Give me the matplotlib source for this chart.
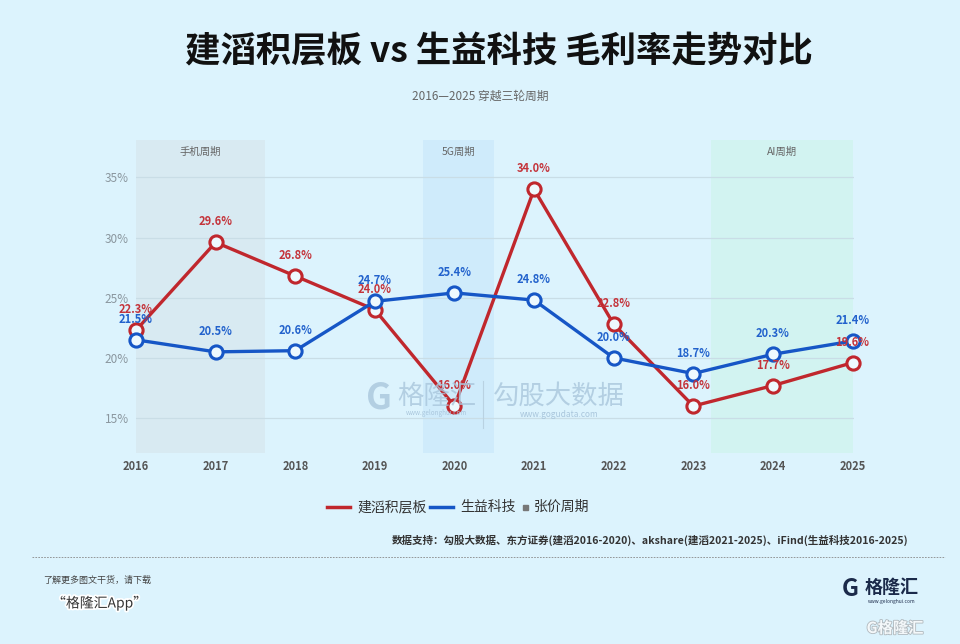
import matplotlib
matplotlib.use("Agg")
import matplotlib.pyplot as plt
from matplotlib.lines import Line2D
from matplotlib.patches import Rectangle
import matplotlib.patheffects as pe

plt.rcParams['font.family'] = ['Noto Sans CJK SC', 'DejaVu Sans']

# data
years = [2016, 2017, 2018, 2019, 2020, 2021, 2022, 2023, 2024, 2025]
kingboard = [22.3, 29.6, 26.8, 24.0, 16.0, 34.0, 22.8, 16.0, 17.7, 19.6]
shengyi = [21.5, 20.5, 20.6, 24.7, 25.4, 24.8, 20.0, 18.7, 20.3, 21.4]
y_ticks = [15, 20, 25, 30, 35]

# cycle bands (start, end, label, colour)
cycle_names = ['手机周期', '5G周期', 'AI周期']
cycle_start = [2016.0, 2019.6, 2023.22]
cycle_end = [2017.62, 2020.5, 2025.0]
cycle_colors = ['#d8eaf2', '#cfebfb', '#d2f3f1']

BG = '#dcf3fd'
RED = '#c0272d'
BLUE = '#1656c6'

fig = plt.figure(figsize=(9.6, 6.44), dpi=100, facecolor=BG)
ax = fig.add_axes([0.1417, 0.2966, 0.748, 0.486], facecolor=BG)

for s, e, name, c in zip(cycle_start, cycle_end, cycle_names, cycle_colors):
    ax.axvspan(s, e, color=c, zorder=0, lw=0)
    ax.text((s + e) / 2, 37.1, name, ha='center', va='center',
            fontsize=7.5, color='#666666', zorder=1)

for t in y_ticks:
    ax.axhline(t, color='#c9dde6', lw=0.9, zorder=0.5)

ax.plot(years, kingboard, color=RED, lw=2.4, marker='o', ms=9.5,
        mfc='#eef9fe', mec=RED, mew=2.2, zorder=3, clip_on=False)
ax.plot(years, shengyi, color=BLUE, lw=2.4, marker='o', ms=9.5,
        mfc='#eef9fe', mec=BLUE, mew=2.2, zorder=4, clip_on=False)

for x, v in zip(years, kingboard):
    ax.annotate(f'{v:.1f}%', (x, v), xytext=(0, 10), textcoords='offset points',
                ha='center', va='bottom', fontsize=8, fontweight='bold',
                color='#c4333a', zorder=5)
for x, v in zip(years, shengyi):
    ax.annotate(f'{v:.1f}%', (x, v), xytext=(0, 10), textcoords='offset points',
                ha='center', va='bottom', fontsize=8, fontweight='bold',
                color='#2262cc', zorder=5)

ax.set_xlim(2016, 2025.02)
ax.set_ylim(12.1, 38.1)
ax.set_xticks(years)
ax.set_xticklabels([str(y) for y in years], fontsize=8, fontweight='bold', color='#555555')
ax.set_yticks(y_ticks)
ax.set_yticklabels([f'{t}%' for t in y_ticks], fontsize=8.5, color='#8a969e')
ax.tick_params(axis='x', length=0, pad=5)
ax.tick_params(axis='y', length=0, pad=5)
for sp in ax.spines.values():
    sp.set_visible(False)

# watermark in the plot area
fig.text(0.395, 0.382, 'G', fontsize=26, fontweight='bold', color='#a9c6dc',
         ha='center', va='center', alpha=0.8)
fig.text(0.455, 0.385, '格隆汇', fontsize=19, color='#a9c6dc', ha='center', va='center', alpha=0.8)
fig.text(0.455, 0.358, 'www.gelonghui.com', fontsize=4.5, color='#a9c6dc', ha='center', va='center')
fig.add_artist(Line2D([0.503, 0.503], [0.335, 0.408], color='#b9d2e2', lw=0.8))
fig.text(0.582, 0.385, '勾股大数据', fontsize=19, color='#a9c6dc', ha='center', va='center', alpha=0.8)
fig.text(0.582, 0.357, 'www.gogudata.com', fontsize=6, color='#a9c6dc', ha='center', va='center')

# title and subtitle
fig.text(0.52, 0.92, '建滔积层板 vs 生益科技 毛利率走势对比', fontsize=25.5, fontweight='bold',
         color='#111111', ha='center', va='center')
fig.text(0.5, 0.851, '2016—2025 穿越三轮周期', fontsize=8.5, color='#666666',
         ha='center', va='center')

# legend
ly = 1 - 507 / 644
fig.add_artist(Line2D([327 / 960, 350 / 960], [ly, ly], color=RED, lw=2.5))
fig.text(357 / 960, ly, '建滔积层板', fontsize=10, fontweight='medium', color='#333333', va='center')
fig.add_artist(Line2D([430 / 960, 453 / 960], [ly, ly], color=BLUE, lw=2.5))
fig.text(460 / 960, ly, '生益科技', fontsize=10, fontweight='medium', color='#333333', va='center')
fig.add_artist(Rectangle((523 / 960, ly - 0.005), 0.0055, 0.008, color='#777777'))
fig.text(534 / 960, ly, '张价周期', fontsize=10, fontweight='medium', color='#333333', va='center')

fig.text(908 / 960, 1 - 540 / 644,
         '数据支持：勾股大数据、东方证券(建滔2016-2020)、akshare(建滔2021-2025)、iFind(生益科技2016-2025)',
         fontsize=7.6, fontweight='bold', color='#333333', ha='right', va='center')

# footer
fig.add_artist(Line2D([32 / 960, 945 / 960], [1 - 557 / 644] * 2, color='#888888',
                      lw=0.6, ls=(0, (2, 1.5))))
fig.text(43 / 960, 1 - 580 / 644, '了解更多图文干货，请下载', fontsize=6.5, style='italic',
         color='#444444', va='center')
fig.text(52 / 960, 1 - 603 / 644, '“格隆汇App”', fontsize=10, style='italic',
         color='#333333', va='center',
         path_effects=[pe.withStroke(linewidth=2.5, foreground='white')])

fig.text(850 / 960, 1 - 589 / 644, 'G', fontsize=17, fontweight='bold', color='#1b2a4a',
         ha='center', va='center')
fig.text(892 / 960, 1 - 587 / 644, '格隆汇', fontsize=13, fontweight='bold', color='#1b2a4a',
         ha='center', va='center')
fig.text(892 / 960, 1 - 601 / 644, 'www.gelonghui.com', fontsize=3.5, color='#1b2a4a',
         ha='center', va='center')
fig.text(895 / 960, 1 - 628 / 644, 'G格隆汇', fontsize=11, fontweight='bold', color='#f4f8fa',
         ha='center', va='center',
         path_effects=[pe.withStroke(linewidth=1.2, foreground='#b0b8bd')])

fig.savefig('out.png', dpi=100, facecolor=BG)
